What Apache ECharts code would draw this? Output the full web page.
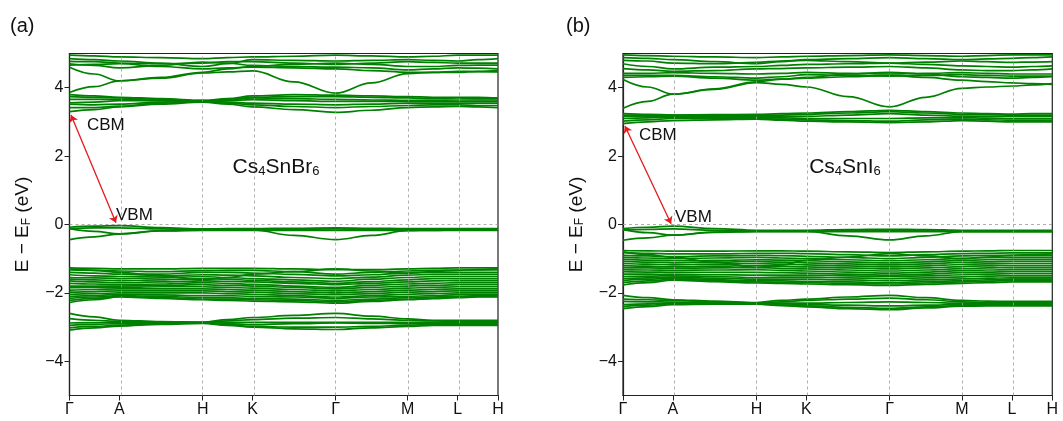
<!DOCTYPE html>
<html>
<head>
<meta charset="utf-8">
<script src="https://cdn.jsdelivr.net/npm/echarts@6/dist/echarts.min.js"></script>
<style>
html,body{margin:0;padding:0;background:#fff;}
#chart{width:1063px;height:421px;}
</style>
</head>
<body>
<div id="chart"></div>
<script>
// High-symmetry k-points (fractional path length) and labels
const kPos = [0, 0.1162, 0.3109, 0.4271, 0.6212, 0.7893, 0.906, 1.0];
const kLabels = ['Γ', 'A', 'H', 'K', 'Γ', 'M', 'L', 'H'];
// sample positions along path: high-symmetry points and segment midpoints
const kx = [0, 0.058, 0.1162, 0.213, 0.3109, 0.369, 0.4271, 0.524, 0.6212, 0.705, 0.7893, 0.848, 0.906, 0.953, 1.0];
const yTicks = [-4, -2, 0, 2, 4];

// ---------- (a) Cs4SnBr6 ----------
const aCondLow = [
  [3.30, 3.36, 3.44, 3.52, 3.58, 3.52, 3.44, 3.36, 3.28, 3.34, 3.42, 3.44, 3.45, 3.44, 3.42],
  [3.42, 3.42, 3.46, 3.55, 3.60, 3.55, 3.50, 3.45, 3.42, 3.45, 3.48, 3.50, 3.50, 3.48, 3.48],
  [3.52, 3.50, 3.52, 3.58, 3.62, 3.58, 3.55, 3.52, 3.50, 3.52, 3.55, 3.55, 3.55, 3.55, 3.55],
  [3.56, 3.58, 3.62, 3.62, 3.60, 3.62, 3.65, 3.62, 3.60, 3.60, 3.60, 3.60, 3.60, 3.60, 3.60],
  [3.66, 3.66, 3.66, 3.63, 3.60, 3.64, 3.70, 3.68, 3.66, 3.64, 3.63, 3.63, 3.64, 3.64, 3.64],
  [3.74, 3.72, 3.70, 3.66, 3.62, 3.66, 3.72, 3.74, 3.74, 3.72, 3.70, 3.68, 3.70, 3.68, 3.68],
  [3.80, 3.76, 3.72, 3.68, 3.63, 3.68, 3.76, 3.80, 3.78, 3.76, 3.74, 3.72, 3.72, 3.72, 3.70]
];
const aCondHigh = [
  [3.86, 4.03, 4.20, 4.30, 4.45, 4.55, 4.62, 4.68, 4.72, 4.68, 4.62, 4.62, 4.65, 4.66, 4.66],
  [4.60, 4.40, 4.20, 4.28, 4.43, 4.46, 4.49, 4.17, 3.84, 4.14, 4.41, 4.45, 4.48, 4.47, 4.46],
  [4.95, 4.93, 4.90, 4.88, 4.85, 4.88, 4.90, 4.92, 4.95, 4.93, 4.90, 4.92, 4.95, 4.95, 4.95],
  [4.85, 4.82, 4.78, 4.72, 4.62, 4.70, 4.82, 4.80, 4.78, 4.80, 4.82, 4.80, 4.78, 4.82, 4.85],
  [4.77, 4.76, 4.72, 4.70, 4.72, 4.76, 4.76, 4.72, 4.68, 4.72, 4.76, 4.74, 4.72, 4.72, 4.72],
  [4.70, 4.65, 4.58, 4.65, 4.75, 4.72, 4.65, 4.62, 4.60, 4.58, 4.52, 4.55, 4.58, 4.57, 4.55],
  [4.66, 4.68, 4.70, 4.62, 4.55, 4.58, 4.60, 4.58, 4.55, 4.50, 4.45, 4.45, 4.45, 4.48, 4.50]
];
const aValTop = [
  [-0.08, -0.05, -0.03, -0.09, -0.13, -0.12, -0.12, -0.11, -0.10, -0.11, -0.12, -0.12, -0.12, -0.12, -0.12],
  [-0.12, -0.10, -0.10, -0.13, -0.15, -0.15, -0.15, -0.14, -0.13, -0.14, -0.15, -0.15, -0.15, -0.15, -0.15],
  [-0.44, -0.36, -0.28, -0.18, -0.16, -0.16, -0.16, -0.32, -0.44, -0.32, -0.18, -0.17, -0.16, -0.16, -0.16],
  [-0.12, -0.20, -0.27, -0.19, -0.17, -0.17, -0.17, -0.17, -0.17, -0.17, -0.17, -0.17, -0.17, -0.17, -0.17]
];
const aValMid = [
  [-1.27, -1.28, -1.30, -1.30, -1.28, -1.28, -1.28, -1.30, -1.32, -1.32, -1.30, -1.28, -1.27, -1.27, -1.27],
  [-1.33, -1.34, -1.36, -1.38, -1.35, -1.34, -1.34, -1.38, -1.45, -1.40, -1.36, -1.34, -1.33, -1.33, -1.33],
  [-1.40, -1.42, -1.45, -1.45, -1.40, -1.40, -1.42, -1.46, -1.50, -1.47, -1.42, -1.40, -1.40, -1.40, -1.40],
  [-1.47, -1.50, -1.52, -1.50, -1.47, -1.48, -1.50, -1.55, -1.58, -1.54, -1.48, -1.46, -1.46, -1.46, -1.46],
  [-1.55, -1.56, -1.58, -1.56, -1.52, -1.55, -1.58, -1.62, -1.66, -1.60, -1.55, -1.52, -1.52, -1.52, -1.52],
  [-1.60, -1.62, -1.64, -1.62, -1.58, -1.60, -1.63, -1.68, -1.72, -1.67, -1.62, -1.58, -1.58, -1.58, -1.58],
  [-1.65, -1.68, -1.70, -1.68, -1.65, -1.66, -1.68, -1.72, -1.76, -1.72, -1.68, -1.65, -1.64, -1.64, -1.64],
  [-1.72, -1.74, -1.76, -1.74, -1.70, -1.72, -1.75, -1.80, -1.84, -1.78, -1.74, -1.72, -1.70, -1.70, -1.70],
  [-1.80, -1.80, -1.80, -1.78, -1.76, -1.78, -1.80, -1.84, -1.88, -1.84, -1.80, -1.78, -1.76, -1.76, -1.76],
  [-1.85, -1.84, -1.84, -1.82, -1.82, -1.84, -1.86, -1.90, -1.94, -1.90, -1.86, -1.84, -1.82, -1.82, -1.82],
  [-1.92, -1.90, -1.88, -1.88, -1.88, -1.90, -1.92, -1.96, -2.00, -1.96, -1.92, -1.90, -1.88, -1.88, -1.88],
  [-1.98, -1.96, -1.94, -1.94, -1.94, -1.96, -1.98, -2.02, -2.05, -2.02, -1.98, -1.96, -1.94, -1.94, -1.94],
  [-2.04, -2.02, -2.00, -2.00, -2.00, -2.02, -2.04, -2.08, -2.12, -2.08, -2.04, -2.02, -2.00, -2.00, -2.00],
  [-2.10, -2.08, -2.04, -2.06, -2.08, -2.08, -2.10, -2.12, -2.16, -2.12, -2.10, -2.08, -2.05, -2.05, -2.05],
  [-2.16, -2.12, -2.08, -2.10, -2.14, -2.14, -2.16, -2.18, -2.22, -2.18, -2.14, -2.12, -2.10, -2.08, -2.08],
  [-2.22, -2.16, -2.10, -2.14, -2.18, -2.18, -2.20, -2.22, -2.26, -2.22, -2.18, -2.15, -2.12, -2.10, -2.10],
  [-2.28, -2.20, -2.12, -2.16, -2.20, -2.22, -2.24, -2.26, -2.30, -2.25, -2.20, -2.17, -2.14, -2.12, -2.12],
  [-1.30, -1.34, -1.40, -1.50, -1.62, -1.55, -1.45, -1.38, -1.30, -1.36, -1.42, -1.38, -1.34, -1.32, -1.30]
];
const aValLow = [
  [-2.60, -2.70, -2.80, -2.84, -2.86, -2.78, -2.72, -2.66, -2.60, -2.68, -2.76, -2.80, -2.80, -2.80, -2.80],
  [-2.75, -2.80, -2.84, -2.85, -2.86, -2.82, -2.78, -2.74, -2.72, -2.76, -2.80, -2.82, -2.83, -2.83, -2.83],
  [-2.88, -2.87, -2.87, -2.86, -2.86, -2.86, -2.86, -2.86, -2.86, -2.86, -2.86, -2.86, -2.86, -2.86, -2.86],
  [-2.95, -2.92, -2.90, -2.88, -2.87, -2.90, -2.93, -2.90, -2.88, -2.89, -2.90, -2.90, -2.90, -2.90, -2.90],
  [-3.02, -2.98, -2.94, -2.90, -2.88, -2.93, -2.98, -3.00, -3.00, -2.98, -2.94, -2.93, -2.93, -2.93, -2.93],
  [-3.09, -3.02, -2.97, -2.92, -2.89, -2.95, -3.00, -3.05, -3.07, -3.02, -2.98, -2.95, -2.95, -2.95, -2.95]
];

// ---------- (b) Cs4SnI6 ----------
const bCondLow = [
  [2.95, 3.00, 3.04, 3.06, 3.08, 3.05, 3.02, 3.00, 2.98, 3.00, 3.04, 3.02, 3.00, 3.00, 3.00],
  [3.02, 3.06, 3.10, 3.10, 3.10, 3.08, 3.06, 3.04, 3.02, 3.06, 3.08, 3.06, 3.05, 3.05, 3.05],
  [3.10, 3.12, 3.14, 3.14, 3.13, 3.12, 3.10, 3.10, 3.10, 3.12, 3.12, 3.11, 3.10, 3.10, 3.10],
  [3.16, 3.16, 3.17, 3.17, 3.16, 3.16, 3.16, 3.20, 3.24, 3.20, 3.17, 3.16, 3.16, 3.16, 3.16],
  [3.20, 3.20, 3.20, 3.20, 3.19, 3.20, 3.22, 3.26, 3.30, 3.26, 3.22, 3.21, 3.20, 3.20, 3.20],
  [3.24, 3.22, 3.20, 3.21, 3.22, 3.24, 3.26, 3.30, 3.34, 3.30, 3.26, 3.24, 3.23, 3.24, 3.24]
];
const bCondHigh = [
  [3.40, 3.60, 3.81, 3.97, 4.17, 4.25, 4.30, 4.40, 4.45, 4.40, 4.32, 4.30, 4.28, 4.30, 4.32],
  [4.24, 4.02, 3.81, 3.95, 4.15, 4.10, 4.02, 3.74, 3.44, 3.72, 3.98, 4.02, 4.05, 4.08, 4.12],
  [4.96, 4.94, 4.92, 4.90, 4.88, 4.90, 4.92, 4.94, 4.96, 4.94, 4.92, 4.94, 4.96, 4.96, 4.96],
  [4.88, 4.86, 4.82, 4.76, 4.70, 4.76, 4.82, 4.85, 4.88, 4.85, 4.82, 4.84, 4.86, 4.88, 4.90],
  [4.80, 4.78, 4.72, 4.70, 4.74, 4.78, 4.80, 4.76, 4.72, 4.75, 4.78, 4.76, 4.74, 4.75, 4.76],
  [4.70, 4.62, 4.55, 4.60, 4.62, 4.65, 4.68, 4.70, 4.72, 4.68, 4.64, 4.62, 4.60, 4.62, 4.64],
  [4.56, 4.52, 4.48, 4.50, 4.55, 4.56, 4.58, 4.60, 4.62, 4.58, 4.52, 4.50, 4.50, 4.52, 4.55],
  [4.42, 4.42, 4.44, 4.42, 4.40, 4.42, 4.45, 4.42, 4.40, 4.42, 4.44, 4.42, 4.40, 4.40, 4.40],
  [4.36, 4.36, 4.36, 4.32, 4.28, 4.32, 4.38, 4.36, 4.34, 4.36, 4.38, 4.36, 4.34, 4.34, 4.34],
  [4.30, 4.32, 4.34, 4.28, 4.22, 4.25, 4.28, 4.32, 4.36, 4.30, 4.22, 4.18, 4.14, 4.12, 4.10]
];
const bValTop = [
  [-0.12, -0.08, -0.05, -0.12, -0.17, -0.17, -0.17, -0.15, -0.14, -0.15, -0.17, -0.17, -0.17, -0.17, -0.17],
  [-0.16, -0.14, -0.13, -0.17, -0.19, -0.19, -0.19, -0.18, -0.17, -0.18, -0.19, -0.19, -0.19, -0.19, -0.19],
  [-0.46, -0.39, -0.31, -0.22, -0.20, -0.20, -0.20, -0.33, -0.45, -0.33, -0.21, -0.21, -0.21, -0.21, -0.21],
  [-0.15, -0.24, -0.31, -0.23, -0.21, -0.21, -0.21, -0.21, -0.21, -0.21, -0.21, -0.21, -0.21, -0.21, -0.21]
];
const bValMid = [
  [-0.76, -0.77, -0.78, -0.78, -0.77, -0.77, -0.78, -0.80, -0.82, -0.80, -0.78, -0.77, -0.76, -0.76, -0.76],
  [-0.82, -0.84, -0.86, -0.86, -0.84, -0.84, -0.85, -0.88, -0.92, -0.88, -0.85, -0.84, -0.83, -0.83, -0.83],
  [-0.90, -0.92, -0.94, -0.92, -0.90, -0.91, -0.93, -0.96, -1.00, -0.96, -0.92, -0.90, -0.90, -0.90, -0.90],
  [-0.96, -0.98, -1.00, -0.98, -0.96, -0.98, -1.00, -1.03, -1.06, -1.03, -0.99, -0.97, -0.96, -0.96, -0.96],
  [-1.02, -1.04, -1.06, -1.05, -1.03, -1.04, -1.06, -1.09, -1.12, -1.09, -1.05, -1.03, -1.02, -1.02, -1.02],
  [-1.08, -1.10, -1.12, -1.10, -1.08, -1.10, -1.12, -1.15, -1.18, -1.15, -1.11, -1.09, -1.08, -1.08, -1.08],
  [-1.14, -1.16, -1.18, -1.16, -1.14, -1.16, -1.18, -1.21, -1.24, -1.21, -1.17, -1.15, -1.14, -1.14, -1.14],
  [-1.20, -1.22, -1.24, -1.22, -1.20, -1.22, -1.24, -1.27, -1.30, -1.27, -1.23, -1.21, -1.20, -1.20, -1.20],
  [-1.26, -1.27, -1.28, -1.27, -1.26, -1.28, -1.30, -1.33, -1.36, -1.33, -1.29, -1.27, -1.26, -1.26, -1.26],
  [-1.32, -1.33, -1.34, -1.33, -1.32, -1.34, -1.36, -1.39, -1.42, -1.39, -1.35, -1.33, -1.32, -1.32, -1.32],
  [-1.38, -1.39, -1.40, -1.40, -1.40, -1.41, -1.42, -1.45, -1.48, -1.45, -1.41, -1.39, -1.38, -1.38, -1.38],
  [-1.45, -1.45, -1.46, -1.47, -1.48, -1.48, -1.48, -1.50, -1.52, -1.50, -1.47, -1.45, -1.44, -1.44, -1.44],
  [-1.52, -1.51, -1.50, -1.52, -1.55, -1.54, -1.54, -1.56, -1.58, -1.56, -1.53, -1.51, -1.50, -1.50, -1.50],
  [-1.58, -1.56, -1.54, -1.57, -1.60, -1.60, -1.60, -1.62, -1.64, -1.62, -1.59, -1.57, -1.56, -1.56, -1.56],
  [-1.64, -1.60, -1.57, -1.61, -1.65, -1.65, -1.66, -1.68, -1.70, -1.67, -1.64, -1.62, -1.60, -1.60, -1.60],
  [-1.70, -1.65, -1.60, -1.64, -1.68, -1.69, -1.70, -1.72, -1.74, -1.71, -1.68, -1.66, -1.64, -1.64, -1.64],
  [-1.77, -1.70, -1.63, -1.67, -1.71, -1.72, -1.74, -1.76, -1.78, -1.75, -1.72, -1.70, -1.68, -1.68, -1.68],
  [-0.80, -0.88, -0.96, -1.10, -1.25, -1.18, -1.05, -0.95, -0.85, -0.92, -1.00, -0.95, -0.90, -0.88, -0.86]
];
const bValLow = [
  [-2.07, -2.14, -2.20, -2.24, -2.28, -2.22, -2.18, -2.12, -2.07, -2.14, -2.22, -2.24, -2.25, -2.25, -2.25],
  [-2.18, -2.20, -2.22, -2.26, -2.29, -2.26, -2.22, -2.18, -2.15, -2.20, -2.26, -2.28, -2.28, -2.28, -2.28],
  [-2.25, -2.26, -2.27, -2.29, -2.30, -2.30, -2.30, -2.28, -2.26, -2.28, -2.30, -2.30, -2.31, -2.31, -2.31],
  [-2.34, -2.32, -2.30, -2.31, -2.31, -2.32, -2.34, -2.36, -2.38, -2.36, -2.34, -2.33, -2.33, -2.33, -2.33],
  [-2.40, -2.36, -2.32, -2.32, -2.32, -2.35, -2.38, -2.42, -2.45, -2.41, -2.37, -2.36, -2.36, -2.36, -2.36],
  [-2.46, -2.40, -2.34, -2.33, -2.33, -2.37, -2.41, -2.46, -2.49, -2.44, -2.39, -2.38, -2.38, -2.38, -2.38]
];

// CBM -> VBM arrows [x, E]
const arrowA = [[0.0035, 3.20], [0.1085, 0.05]];
const arrowB = [[0.0045, 2.88], [0.112, 0.02]];

const bandsA = [].concat(aCondLow, aCondHigh, aValTop, aValMid, aValLow);
const bandsB = [].concat(bCondLow, bCondHigh, bValTop, bValMid, bValLow);

const FONT = '"Liberation Sans", Arial, sans-serif';
const GREEN = '#008000';

function fmtMinus(v) { return v < 0 ? '\u2212' + Math.abs(v) : String(v); }
function kLabel(v) {
  let best = 0;
  for (let i = 1; i < kPos.length; i++) if (Math.abs(kPos[i] - v) < Math.abs(kPos[best] - v)) best = i;
  return kLabels[best];
}

const grids = [
  { left: 69.5, top: 53.5, width: 428.5, height: 342 },
  { left: 623, top: 53.5, width: 429.3, height: 342 }
];

const xAxes = grids.map((g, i) => ({
  type: 'value', gridIndex: i, min: 0, max: 1,
  axisLine: { show: true, onZero: false, lineStyle: { color: '#222', width: 1.2 } },
  axisTick: { show: true, customValues: kPos, length: 5, lineStyle: { color: '#222', width: 1 } },
  axisLabel: { customValues: kPos, formatter: kLabel, fontSize: 16, fontFamily: FONT, color: '#111', margin: 6 },
  splitLine: { show: false }
}));
const yAxes = grids.map((g, i) => ({
  type: 'value', gridIndex: i, min: -5, max: 5,
  axisLine: { show: true, onZero: false, lineStyle: { color: '#222', width: 1.2 } },
  axisTick: { show: true, customValues: yTicks, length: 5, lineStyle: { color: '#222', width: 1 } },
  axisLabel: { customValues: yTicks, formatter: fmtMinus, fontSize: 16, fontFamily: FONT, color: '#111', margin: 6 },
  splitLine: { show: false },
  name: '{n|E \u2212 E}{s|F}{n| (eV)}',
  nameLocation: 'middle', nameRotate: 90, nameGap: 37,
  nameTextStyle: {
    rich: {
      n: { fontSize: 19, fontFamily: FONT, color: '#111' },
      s: { fontSize: 12, fontFamily: FONT, color: '#111', verticalAlign: 'bottom', padding: [7, 0, 0, 0] }
    }
  }
}));

const series = [];
[bandsA, bandsB].forEach((bands, p) => {
  bands.forEach(b => {
    series.push({
      type: 'line', xAxisIndex: p, yAxisIndex: p, silent: true,
      data: kx.map((x, i) => [x, b[i]]),
      smooth: 0.4, smoothMonotone: 'x', symbol: 'none', clip: true,
      lineStyle: { color: GREEN, width: 1.7 }, z: 3
    });
  });
  // dashed guides
  series.push({
    type: 'line', xAxisIndex: p, yAxisIndex: p, silent: true, data: [[0, 0]], symbol: 'none',
    markLine: {
      silent: true, symbol: 'none', label: { show: false }, animation: false,
      lineStyle: { color: '#9a9a9a', type: [3, 3], width: 0.8 },
      data: kPos.slice(1, -1).map(v => ({ xAxis: v })).concat([{ yAxis: 0 }])
    }, z: 1
  });
  const arr = p === 0 ? arrowA : arrowB;
  series.push({
    type: 'line', xAxisIndex: p, yAxisIndex: p, silent: true, data: [[0, 0]], symbol: 'none',
    markLine: {
      silent: true, symbol: ['arrow', 'arrow'], symbolSize: 7, label: { show: false }, animation: false,
      lineStyle: { color: '#e41a1c', type: 'solid', width: 1.3 },
      data: [[{ coord: arr[0] }, { coord: arr[1] }]]
    }, z: 5
  });
});

const txt = (x, y, text, size, align) => ({
  type: 'text', x: x, y: y, z: 10,
  style: { text: text, font: size + 'px ' + FONT, fill: '#111', align: align || 'left', verticalAlign: 'middle' }
});
const formula = (x, y, parts) => ({
  type: 'text', x: x, y: y, z: 10,
  style: {
    text: parts, align: 'center', verticalAlign: 'middle', fill: '#111',
    rich: {
      m: { fontSize: 21, fontFamily: FONT, fill: '#111' },
      s: { fontSize: 13, fontFamily: FONT, fill: '#111', verticalAlign: 'bottom', padding: [6, 0, 0, 0] }
    }
  }
});

const option = {
  animation: false,
  backgroundColor: '#fff',
  grid: grids.map(g => Object.assign({ show: true, borderColor: '#222', borderWidth: 1.2, backgroundColor: 'transparent' }, g)),
  xAxis: xAxes,
  yAxis: yAxes,
  series: series,
  graphic: [
    txt(10, 26, '(a)', 20),
    txt(566, 26, '(b)', 20),
    txt(87, 125, 'CBM', 17),
    txt(116, 215, 'VBM', 17),
    txt(639, 135, 'CBM', 17),
    txt(675, 217, 'VBM', 17),
    formula(276, 167, '{m|Cs}{s|4}{m|SnBr}{s|6}'),
    formula(845, 167, '{m|Cs}{s|4}{m|SnI}{s|6}')
  ]
};

const chart = echarts.init(document.getElementById('chart'), null, { renderer: 'canvas' });
chart.setOption(option);
</script>
</body>
</html>
